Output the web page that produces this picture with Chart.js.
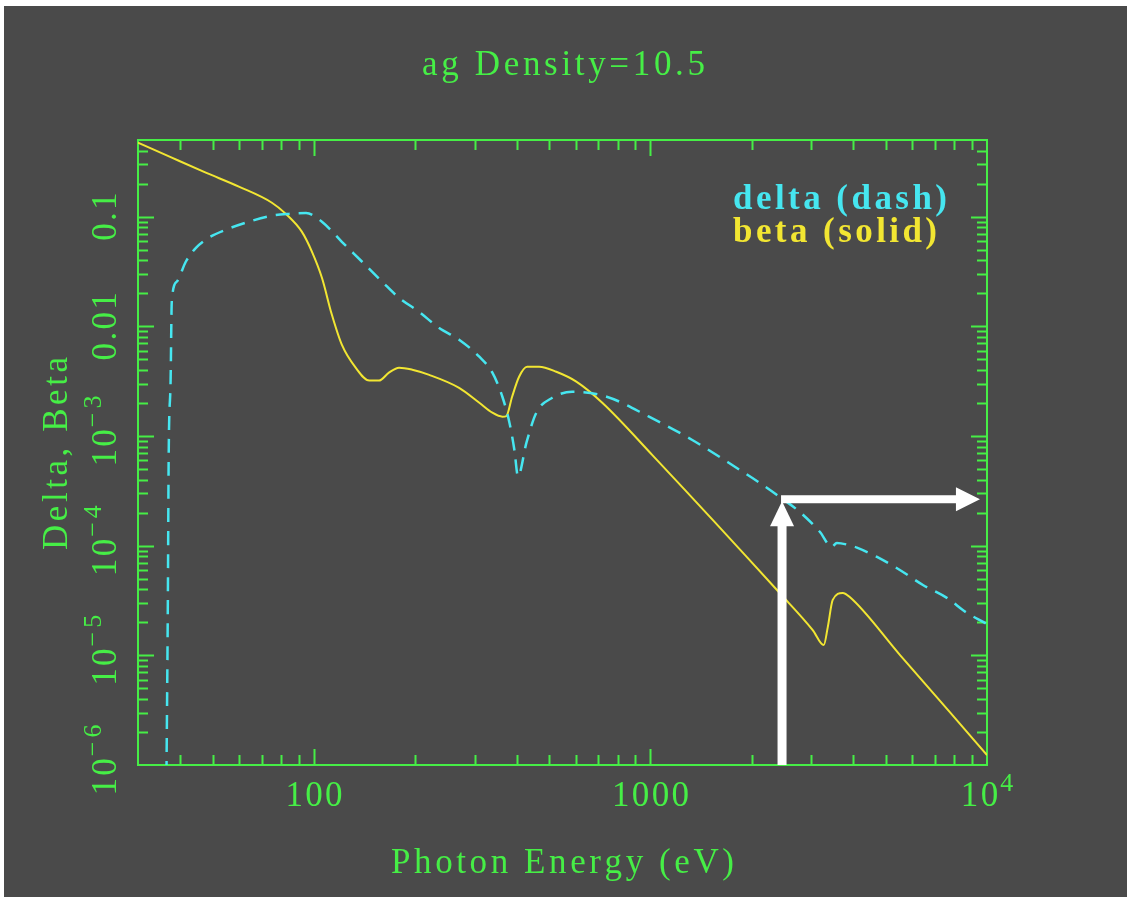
<!DOCTYPE html>
<html>
<head>
<meta charset="utf-8">
<title>ag Density=10.5</title>
<script src="https://cdn.jsdelivr.net/npm/chart.js@4.4.1/dist/chart.umd.min.js"></script>
<style>
  html, body { margin: 0; padding: 0; background: #ffffff; }
  canvas { display: block; }
</style>
</head>
<body>
<canvas id="optics" width="1127" height="897"></canvas>
<script>
// delta and beta of silver vs photon energy (eV)
var deltaEnergy = [36.4, 36.8, 37.0, 37.5, 37.8, 39.1, 41.6, 44.6, 48.7, 54.7, 64.1, 75, 84.2, 94.7, 105.6, 121, 139, 159.5, 179, 205, 235, 270, 310, 339, 363, 381, 394, 404, 428, 458, 511, 585, 741, 990, 1331, 1843, 2110, 2371, 2777, 3185, 3457, 3579, 3900, 4106, 4710, 5508, 6450, 7600, 8714, 9860, 10000];
var deltaValue = [5e-7, 3.2e-5, 6.1e-4, 3.26e-3, 0.0168, 0.0255, 0.0388, 0.052, 0.0643, 0.076, 0.09, 0.102, 0.106, 0.108, 0.09, 0.059, 0.0388, 0.0255, 0.0182, 0.0136, 0.0097, 0.00755, 0.00528, 0.00378, 0.00228, 0.00132, 7.5e-4, 4.3e-4, 8.7e-4, 0.00163, 0.00223, 0.00253, 0.00228, 0.0015, 9.2e-4, 4.9e-4, 3.74e-4, 2.91e-4, 2.03e-4, 1.34e-4, 9.75e-5, 1.06e-4, 1.01e-4, 9.6e-5, 7.9e-5, 6.0e-5, 4.38e-5, 3.34e-5, 2.44e-5, 1.98e-5, 1.93e-5];

var betaEnergy = [30, 37.8, 47.7, 59.8, 75, 82.5, 92, 98.6, 105.6, 113, 121, 133, 146, 156, 167, 179, 196, 220, 270, 310, 339, 363, 373, 388, 407, 430, 467, 525, 602, 719, 1013, 2421, 3035, 3272, 3363, 3480, 3727, 3910, 5508, 7766, 10000];
var betaValue = [0.473, 0.345, 0.252, 0.188, 0.134, 0.106, 0.073, 0.048, 0.0277, 0.0128, 0.0068, 0.0042, 0.0032, 0.0032, 0.00378, 0.0042, 0.00402, 0.00361, 0.00275, 0.00201, 0.00163, 0.0015, 0.00152, 0.00228, 0.00347, 0.00428, 0.00428, 0.00385, 0.00313, 0.00201, 6.7e-4, 3.7e-5, 1.7e-5, 1.24e-5, 1.8e-5, 3.2e-5, 3.7e-5, 3.4e-5, 1.01e-5, 3.02e-6, 1.23e-6];

// tick labels (base text + superscript)
var xTickValues = [100, 1000, 10000];
var xTickBase = ['100', '1000', '10'];
var xTickSup = ['', '', '4'];
var yTickValues = [0.1, 0.01, 1e-3, 1e-4, 1e-5, 1e-6];
var yTickBase = ['0.1', '0.01', '10', '10', '10', '10'];
var yTickSup = ['', '', '\u22123', '\u22124', '\u22125', '\u22126'];

// white arrow: up from the axis to delta, then across to the right
var arrowEnergy = 2460;
var arrowDelta = 2.65e-4;
var arrowEndEnergy = 9530;

var bg = '#4a4a4a', green = '#46ee46', cyan = '#46e6f0', yellow = '#f2e632';
var serif = '"Liberation Serif", "Times New Roman", serif';

function textWidth(ctx, str, sp) {
  var chars = Array.from(str);
  var w = 0;
  chars.forEach(function(c) { w += ctx.measureText(c).width; });
  return w + sp * (chars.length - 1);
}

// draws str starting at x with sp pixels between letters
function spaced(ctx, str, x, y, sp) {
  ctx.textAlign = 'left';
  Array.from(str).forEach(function(c) {
    ctx.fillText(c, x, y);
    x += ctx.measureText(c).width + sp;
  });
}

// draws str so that it fills w pixels, centred on cx
function fitted(ctx, str, cx, y, w) {
  var chars = Array.from(str);
  var natural = textWidth(ctx, str, 0);
  var sp = chars.length > 1 ? (w - natural) / (chars.length - 1) : 0;
  spaced(ctx, str, cx - w / 2, y, sp);
}

// tick label in a local frame: text runs along +u, baseline at v = 0
function tickLabel(ctx, base, sup, shift) {
  ctx.font = '35px ' + serif;
  var wb = textWidth(ctx, base, 2.3);
  ctx.font = '26px ' + serif;
  var ws = sup ? textWidth(ctx, sup, 4) : 0;
  var u0 = -(wb + ws + (sup ? 2 : 0)) / 2 + (sup ? shift : 0);
  ctx.font = '35px ' + serif;
  spaced(ctx, base, u0, 0, 2.3);
  if (sup) {
    ctx.font = '26px ' + serif;
    spaced(ctx, sup, u0 + wb + 2, -15, 4);
  }
}

var frame = {
  id: 'frame',
  beforeDraw: function(chart) {
    var c = chart.ctx;
    c.save();
    c.fillStyle = '#ffffff';
    c.fillRect(0, 0, chart.width, chart.height);
    c.fillStyle = bg;
    c.fillRect(4, 6, chart.width - 4, chart.height - 6);
    c.restore();
  },
  beforeDatasetsDraw: function(chart) {
    var c = chart.ctx, a = chart.chartArea;
    var xs = chart.scales.x, ys = chart.scales.y;
    c.save();
    c.strokeStyle = green;
    c.lineWidth = 2;
    c.strokeRect(a.left, a.top, a.right - a.left, a.bottom - a.top);

    // inward ticks on all four sides
    c.beginPath();
    [10, 100, 1000].forEach(function(d) {
      for (var m = 1; m <= 9; m++) {
        var v = m * d;
        if (v <= 30 || v >= 10000) continue;
        var len = m === 1 ? 16 : 10;
        var px = Math.round(xs.getPixelForValue(v)) + 0.5;
        c.moveTo(px, a.bottom); c.lineTo(px, a.bottom - len);
        c.moveTo(px, a.top); c.lineTo(px, a.top + len);
      }
    });
    [1e-6, 1e-5, 1e-4, 1e-3, 1e-2, 0.1].forEach(function(d) {
      for (var m = 1; m <= 9; m++) {
        var v = m * d;
        if (v <= 1.0001e-6 || v >= 0.4999) continue;
        var len = m === 1 ? 16 : 10;
        var py = Math.round(ys.getPixelForValue(v)) + 0.5;
        c.moveTo(a.left, py); c.lineTo(a.left + len, py);
        c.moveTo(a.right, py); c.lineTo(a.right - len, py);
      }
    });
    c.stroke();

    c.fillStyle = green;
    c.textBaseline = 'alphabetic';

    // x tick labels
    xTickValues.forEach(function(v, i) {
      c.save();
      c.translate(xs.getPixelForValue(v), a.bottom + 41);
      tickLabel(c, xTickBase[i], xTickSup[i], 0);
      c.restore();
    });
    // y tick labels, rotated
    yTickValues.forEach(function(v, i) {
      c.save();
      c.translate(a.left - 22, ys.getPixelForValue(v));
      c.rotate(-Math.PI / 2);
      tickLabel(c, yTickBase[i], yTickSup[i], 5);
      c.restore();
    });

    // titles
    c.font = '35px ' + serif;
    fitted(c, 'ag Density=10.5', (a.left + a.right) / 2 + 1, 75, 283);
    fitted(c, 'Photon Energy (eV)', (a.left + a.right) / 2, a.bottom + 108, 343);
    c.save();
    c.translate(a.left - 71, (a.top + a.bottom) / 2 + 1);
    c.rotate(-Math.PI / 2);
    fitted(c, 'Delta, Beta', 0, 0, 193);
    c.restore();

    // legend text
    c.font = 'bold 35px ' + serif;
    c.fillStyle = cyan;
    fitted(c, 'delta (dash)', a.right - 254 + 107, a.top + 69, 214);
    c.fillStyle = yellow;
    fitted(c, 'beta (solid)', a.right - 254 + 102, a.top + 102, 204);
    c.restore();
  },
  afterDatasetsDraw: function(chart) {
    var c = chart.ctx, a = chart.chartArea;
    var xs = chart.scales.x, ys = chart.scales.y;
    var xA = xs.getPixelForValue(arrowEnergy);
    var yA = ys.getPixelForValue(arrowDelta);
    var xE = xs.getPixelForValue(arrowEndEnergy);
    c.save();
    c.fillStyle = '#ffffff';
    // vertical shaft and head
    c.fillRect(xA - 4.5, yA + 26, 9, a.bottom - yA - 26);
    c.beginPath();
    c.moveTo(xA - 12, yA + 27);
    c.lineTo(xA + 12, yA + 27);
    c.lineTo(xA, yA + 2);
    c.closePath();
    c.fill();
    // horizontal shaft and head
    c.fillRect(xA - 1, yA - 4, xE - xA - 22, 8);
    c.beginPath();
    c.moveTo(xE - 24, yA - 12);
    c.lineTo(xE - 24, yA + 12);
    c.lineTo(xE, yA);
    c.closePath();
    c.fill();
    c.restore();
  }
};

function pairs(xv, yv) {
  return xv.map(function(x, i) { return { x: x, y: yv[i] }; });
}

Chart.defaults.font.family = serif;

new Chart(document.getElementById('optics'), {
  type: 'line',
  data: {
    datasets: [
      {
        label: 'delta (dash)',
        data: pairs(deltaEnergy, deltaValue),
        borderColor: cyan,
        borderWidth: 2.5,
        borderDash: [14, 9],
        pointRadius: 0,
        cubicInterpolationMode: 'monotone',
        fill: false
      },
      {
        label: 'beta (solid)',
        data: pairs(betaEnergy, betaValue),
        borderColor: yellow,
        borderWidth: 2,
        pointRadius: 0,
        cubicInterpolationMode: 'monotone',
        fill: false
      }
    ]
  },
  options: {
    responsive: false,
    animation: false,
    devicePixelRatio: 1,
    layout: { padding: { left: 138, top: 140, right: 140, bottom: 132 } },
    scales: {
      x: { type: 'logarithmic', min: 30, max: 10000, display: false },
      y: { type: 'logarithmic', min: 1e-6, max: 0.5, display: false }
    },
    plugins: {
      legend: { display: false },
      title: { display: false },
      tooltip: { enabled: false }
    }
  },
  plugins: [frame]
});
</script>
</body>
</html>
